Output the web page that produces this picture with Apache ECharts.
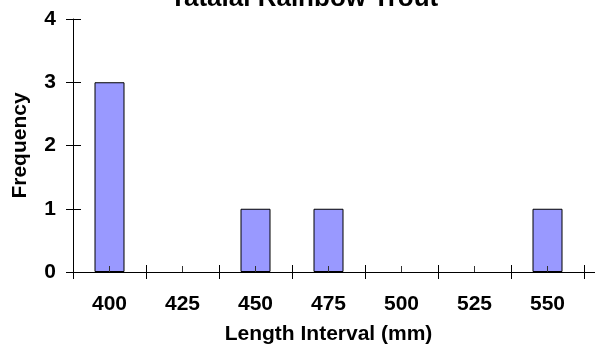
<!DOCTYPE html>
<html>
<head>
<meta charset="utf-8">
<script src="https://cdn.jsdelivr.net/npm/echarts@6/dist/echarts.min.js"></script>
<style>html,body{margin:0;padding:0;background:#fff}#c{width:595px;height:352px}</style>
</head>
<body>
<div id="c"></div>
<script>
const titleText = 'Tatalai Rainbow Trout';
const categories = ['400', '425', '450', '475', '500', '525', '550'];
const frequency = [3, 0, 1, 1, 0, 0, 1];
const yTicks = [0, 1, 2, 3, 4];
const xName = 'Length Interval (mm)';
const yName = 'Frequency';

const FONT = 'Arial, "Liberation Sans", sans-serif';
const FS = 21;
const chart = echarts.init(document.getElementById('c'), null, {renderer: 'canvas'});
const lineStyle = {color: '#000', width: 1};
chart.setOption({
  animation: false,
  backgroundColor: '#fff',
  title: {
    text: titleText, left: 165, top: -19,
    textStyle: {fontFamily: FONT, fontWeight: 'bold', fontSize: 26, color: '#000'}
  },
  grid: [
    {left: 73, right: 11, top: 19, bottom: 80},
    {left: 73, right: 0, top: 19, bottom: 80}
  ],
  xAxis: [
    {
      gridIndex: 0, type: 'category', data: categories, boundaryGap: true,
      axisLine: {show: true, lineStyle: lineStyle},
      axisTick: {show: true, length: 7, lineStyle: lineStyle},
      axisLabel: {fontFamily: FONT, fontWeight: 'bold', fontSize: FS, color: '#000', margin: 22},
      name: xName, nameLocation: 'middle', nameGap: 52,
      nameTextStyle: {fontFamily: FONT, fontWeight: 'bold', fontSize: FS, color: '#000'},
      z: 5
    },
    {
      gridIndex: 0, type: 'category', data: categories, boundaryGap: true, position: 'bottom',
      axisLine: {show: false},
      axisTick: {show: true, inside: true, length: 7, lineStyle: lineStyle},
      axisLabel: {show: false}, z: 5
    },
    {
      gridIndex: 0, type: 'category', data: categories, boundaryGap: true, position: 'bottom',
      axisLine: {show: false},
      axisTick: {show: true, inside: true, alignWithLabel: true, length: 6, lineStyle: {color: '#333', width: 1}},
      axisLabel: {show: false}, z: 5
    },
    {
      gridIndex: 1, type: 'category', data: [''], boundaryGap: true,
      axisLine: {show: true, lineStyle: lineStyle},
      axisTick: {show: false}, axisLabel: {show: false}
    }
  ],
  yAxis: [
    {
      gridIndex: 0, type: 'value', position: 'left',
      min: yTicks[0], max: yTicks[yTicks.length - 1], interval: 1,
      axisLine: {show: true, lineStyle: lineStyle},
      axisTick: {show: true, length: 7, lineStyle: lineStyle},
      axisLabel: {fontFamily: FONT, fontWeight: 'bold', fontSize: FS, color: '#000', margin: 17},
      splitLine: {show: false},
      name: yName, nameLocation: 'middle', nameGap: 42, nameRotate: 90,
      nameTextStyle: {fontFamily: FONT, fontWeight: 'bold', fontSize: FS, color: '#000'}
    },
    {
      gridIndex: 0, type: 'value', position: 'left',
      min: yTicks[0], max: yTicks[yTicks.length - 1], interval: 1,
      axisLine: {show: false},
      axisTick: {show: true, inside: true, length: 8, lineStyle: lineStyle},
      axisLabel: {show: false}, splitLine: {show: false}
    },
    {
      gridIndex: 1, type: 'value', min: 0, max: 4, show: false
    }
  ],
  series: [{
    type: 'bar', xAxisIndex: 0, yAxisIndex: 0, barWidth: 30,
    data: frequency.map(v => v === 0 ? {value: v, itemStyle: {borderWidth: 0}} : v),
    itemStyle: {color: '#9999FF', borderColor: '#000', borderWidth: 1}
  }]
});
</script>
</body>
</html>
